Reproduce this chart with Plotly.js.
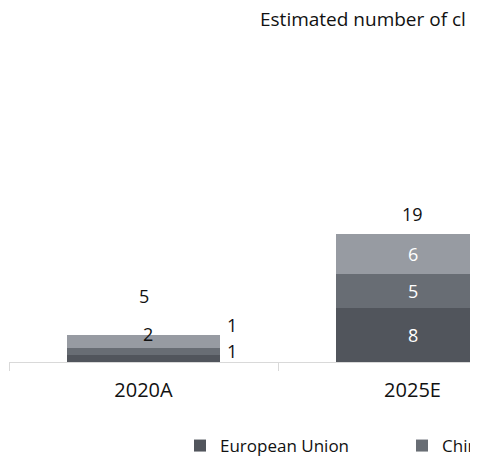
<!DOCTYPE html>
<html>
<head>
<meta charset="utf-8">
<script src="https://cdn.plot.ly/plotly-3.0.1.min.js"></script>
<style>
  html, body { margin: 0; padding: 0; background: #ffffff; }
  #wrap { width: 470px; height: 461px; overflow: hidden; position: relative; }
  #chart { width: 860px; height: 461px; }
</style>
</head>
<body>
<div id="wrap"><div id="chart"></div></div>
<script>
// ---- data ----
const categories = ["2020A", "2025E"];
const seriesNames = ["European Union", "China", "Other"];
const euValues = [1, 8];
const chinaValues = [1, 5];
const otherValues = [2, 6];
const totals = [5, 19];
const titleText = "Estimated number of cl";

// ---- styles ----
const W = 860;
const colors = ["#51555c", "#686d74", "#979ba2"];
const inLegend = [true, true, false];
const FONT = "Open Sans, Noto Sans, sans-serif";
const series = [euValues, chinaValues, otherValues];

const traces = series.map((vals, i) => ({
  type: "bar",
  name: seriesNames[i],
  x: categories,
  y: vals,
  showlegend: inLegend[i],
  marker: { color: colors[i], line: { width: 0 } },
  hoverinfo: "skip"
}));

const annotations = [];
// segment labels
categories.forEach((cat, ci) => {
  let base = 0;
  series.forEach((vals, si) => {
    const v = vals[ci];
    const mid = base + v / 2;
    base += v;
    let ann = {
      x: cat, y: mid, xref: "x", yref: "y", text: String(v), showarrow: false,
      font: { family: FONT, size: 18, color: "#ffffff" }, yanchor: "middle"
    };
    if (ci === 0) {
      // small first-category segments: labels are dark and moved out
      ann.font.color = "#111111";
      if (si === 0) { ann.xshift = 88; ann.yshift = 8; }
      if (si === 1) { ann.xshift = 88; ann.yshift = 27; }
      if (si === 2) { ann.xshift = 4; ann.yshift = 8; }
    }
    annotations.push(ann);
  });
});
// total labels
const totalShift = [32, 20];
categories.forEach((cat, ci) => {
  annotations.push({
    x: cat, y: totals[ci], xref: "x", yref: "y", text: String(totals[ci]),
    showarrow: false, yanchor: "middle", yshift: totalShift[ci],
    font: { family: FONT, size: 18, color: "#111111" }
  });
});

const layout = {
  width: W,
  height: 461,
  margin: { l: 9, r: W - 547, t: 50, b: 99 },
  paper_bgcolor: "#ffffff",
  plot_bgcolor: "#ffffff",
  barmode: "stack",
  bargap: 0.43,
  title: {
    text: titleText,
    x: 260 / W, xref: "container", xanchor: "left",
    y: 1 - 19 / 461, yref: "container", yanchor: "middle",
    font: { family: FONT, size: 19, color: "#111111" }
  },
  xaxis: {
    type: "category",
    showline: true, linecolor: "#d9d9d9", linewidth: 1,
    ticks: "outside", tickson: "boundaries", ticklen: 8, tickcolor: "#d9d9d9",
    ticklabelstandoff: 10,
    showgrid: false, zeroline: false,
    tickfont: { family: FONT, size: 20, color: "#111111" }
  },
  yaxis: {
    range: [0, 46.2],
    visible: false, showgrid: false, zeroline: false
  },
  showlegend: true,
  legend: {
    orientation: "h",
    xref: "container", x: 180 / W, xanchor: "left",
    yref: "container", y: 1 - 446 / 461, yanchor: "middle",
    entrywidth: 177,
    font: { family: FONT, size: 17, color: "#111111" },
    traceorder: "normal"
  },
  annotations: annotations
};

Plotly.newPlot("chart", traces, layout, { displayModeBar: false, staticPlot: true });
</script>
</body>
</html>
